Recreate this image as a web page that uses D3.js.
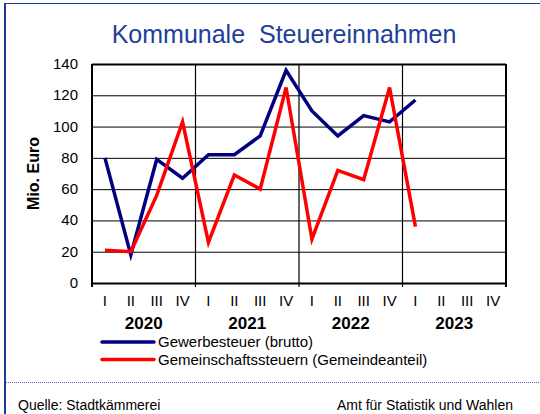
<!DOCTYPE html>
<html lang="de">
<head>
  <meta charset="utf-8">
  <title>Kommunale Steuereinnahmen</title>
  <script src="https://d3js.org/d3.v7.min.js"></script>
</head>
<style>
body {
  margin: 0;
  font-family: Arial, "Liberation Sans", sans-serif;
}
</style>
<body>
<script>
var w = 540;
var h = 414;

// data
var years = ["2020", "2021", "2022", "2023"];
var quarterNames = ["I", "II", "III", "IV"];
var gewerbe = [80, 18, 79, 67, 82, 82, 94, 136, 110, 94, 107, 103, 117];
var gemeinschaft = [21, 20, 56, 103, 26, 69, 60, 125, 28, 72, 66, 125, 36];
var yTicks = [0, 20, 40, 60, 80, 100, 120, 140];
var seriesNames = ["Gewerbesteuer (brutto)", "Gemeinschaftssteuern (Gemeindeanteil)"];
var seriesColors = ["#000080", "#ff0000"];

// one slot per quarter
var quarters = [];
years.forEach(function(yr) {
  quarterNames.forEach(function(q) { quarters.push(yr + "-" + q); });
});

var svg = d3.select("body").append("svg")
  .attr("width", w)
  .attr("height", h);

// frame
var frameBlue = "#1c3a9c";
svg.append("line").attr("x1", 4).attr("x2", w).attr("y1", 3.5).attr("y2", 3.5)
  .attr("stroke", frameBlue).attr("stroke-width", 1.2);
svg.append("line").attr("x1", 5).attr("x2", 5).attr("y1", 3).attr("y2", h)
  .attr("stroke", frameBlue).attr("stroke-width", 2);
svg.append("line").attr("x1", 6).attr("x2", w).attr("y1", 382.5).attr("y2", 382.5)
  .attr("stroke", "#4a6ac0").attr("stroke-width", 1).attr("stroke-dasharray", "1,1");

// title
svg.append("text")
  .attr("x", 284).attr("y", 43)
  .attr("text-anchor", "middle")
  .attr("fill", "#20409a")
  .style("font-size", "25px")
  .style("white-space", "pre")
  .text("Kommunale  Steuereinnahmen");

var pLeft = 92, pRight = 506, pTop = 64, pBottom = 283;

var x = d3.scaleBand().domain(quarters).range([pLeft, pRight]);
var y = d3.scaleLinear().domain([0, 140]).range([pBottom, pTop]);

// horizontal gridlines
svg.append("g").selectAll("line")
  .data(yTicks)
  .enter().append("line")
  .attr("x1", pLeft).attr("x2", pRight)
  .attr("y1", function(d) { return y(d) + 0.5; })
  .attr("y2", function(d) { return y(d) + 0.5; })
  .attr("stroke", "#000")
  .attr("stroke-width", function(d) { return d === 0 || d === 140 ? 2 : 1; });

// vertical lines at year boundaries
var yearBounds = d3.range(years.length + 1).map(function(i) {
  return i < years.length ? x(years[i] + "-I") : pRight;
});
svg.append("g").selectAll("line")
  .data(yearBounds)
  .enter().append("line")
  .attr("x1", function(d) { return d; })
  .attr("x2", function(d) { return d; })
  .attr("y1", pTop).attr("y2", pBottom + 4)
  .attr("stroke", "#000")
  .attr("stroke-width", function(d, i) { return i === 0 || i === years.length ? 2 : 1.2; });

// y tick labels
svg.append("g").selectAll("text")
  .data(yTicks)
  .enter().append("text")
  .attr("x", 78)
  .attr("y", function(d) { return y(d) + 5; })
  .attr("text-anchor", "end")
  .style("font-size", "15px")
  .text(function(d) { return d; });

// y axis title
svg.append("text")
  .attr("transform", "translate(39," + ((pTop + pBottom) / 2) + ") rotate(-90)")
  .attr("text-anchor", "middle")
  .style("font-size", "16px")
  .style("font-weight", "bold")
  .text("Mio. Euro");

// quarter labels
svg.append("g").selectAll("text")
  .data(quarters)
  .enter().append("text")
  .attr("x", function(d) { return x(d) + x.bandwidth() / 2; })
  .attr("y", 306)
  .attr("text-anchor", "middle")
  .style("font-size", "15px")
  .text(function(d) { return d.split("-")[1]; });

// year labels
svg.append("g").selectAll("text")
  .data(years)
  .enter().append("text")
  .attr("x", function(d) { return x(d + "-I") + x.bandwidth() * 2; })
  .attr("y", 329)
  .attr("text-anchor", "middle")
  .style("font-size", "17px")
  .style("font-weight", "bold")
  .text(function(d) { return d; });

// lines
var line = d3.line()
  .x(function(d, i) { return x(quarters[i]) + x.bandwidth() / 2; })
  .y(function(d) { return y(d); });

[gewerbe, gemeinschaft].forEach(function(s, i) {
  svg.append("path")
    .datum(s)
    .attr("d", line)
    .attr("fill", "none")
    .attr("stroke", seriesColors[i])
    .attr("stroke-width", 3.5)
    .attr("stroke-linejoin", "miter");
});

// legend
var legend = svg.append("g").selectAll("g")
  .data(seriesNames)
  .enter().append("g")
  .attr("transform", function(d, i) { return "translate(102," + (342 + i * 17.5) + ")"; });
legend.append("line")
  .attr("x1", 0).attr("x2", 52)
  .attr("stroke", function(d, i) { return seriesColors[i]; })
  .attr("stroke-width", 3.5)
  .attr("stroke-linecap", "round");
legend.append("text")
  .attr("x", 56).attr("y", 5)
  .style("font-size", "15px")
  .text(function(d) { return d; });

// footer
svg.append("text")
  .attr("x", 18).attr("y", 410)
  .style("font-size", "14px")
  .text("Quelle: Stadtkämmerei");
svg.append("text")
  .attr("x", 513).attr("y", 410)
  .attr("text-anchor", "end")
  .style("font-size", "14px")
  .text("Amt für Statistik und Wahlen");
</script>
</body>
</html>
